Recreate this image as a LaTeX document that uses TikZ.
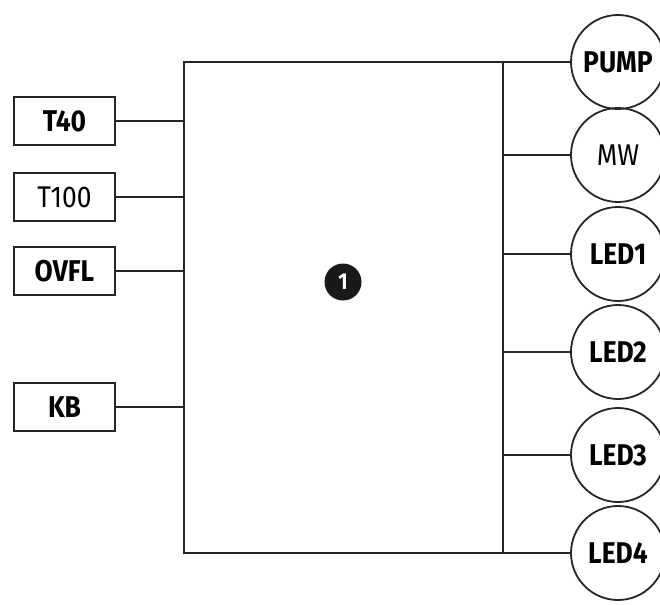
\documentclass[tikz,border=0pt]{standalone}
\usepackage{fontspec}
\setmainfont[FakeStretch=0.88]{Fira Sans}
\begin{document}
\begin{tikzpicture}[x=1pt,y=-1pt,
  ln/.style={line width=1.8pt, draw=black!85},
  inbox/.style={draw=black!85, line width=1.8pt, minimum width=101pt, minimum height=48pt, inner sep=0pt, font=\fontsize{30}{30}\selectfont},
  outc/.style={draw=black!85, line width=1.8pt, circle, minimum size=94pt, inner sep=0pt, font=\fontsize{30}{30}\selectfont},
  bt/.style={font=\fontsize{30}{30}\selectfont\bfseries}]
\useasboundingbox (0,0) rectangle (660,604);
\clip (0,0) rectangle (660,604);
\node[draw=black!85, line width=1.8pt, minimum width=319pt, minimum height=491pt, inner sep=0pt] (main) at (343.5,307.5) {};
\node[circle, fill=black!90, minimum size=37pt, inner sep=0pt, text=white, font=\fontsize{23}{23}\selectfont\bfseries] (one) at (343,282) {1};
% inputs
\node[inbox, bt] (t40) at (64.5,121) {T40};
\node[inbox] (t100) at (64.5,197) {T100};
\node[inbox, bt] (ovfl) at (64.5,271) {OVFL};
\node[inbox, bt] (kb) at (64.5,407) {KB};
\foreach \n in {t40,t100,ovfl,kb} \draw[ln] (\n.east) -- (\n.east -| main.west);
% outputs
\node[outc, bt] (pump) at (618,62) {PUMP};
\node[outc] (mw) at (618,155) {MW};
\node[outc, bt] (led1) at (618,254) {LED1};
\node[outc, bt] (led2) at (618,352) {LED2};
\node[outc, bt] (led3) at (618,455) {LED3};
\node[outc, bt] (led4) at (618,553) {LED4};
\foreach \n in {pump,mw,led1,led2,led3,led4} \draw[ln] (\n.west) -- (\n.west -| main.east);
\end{tikzpicture}
\end{document}
